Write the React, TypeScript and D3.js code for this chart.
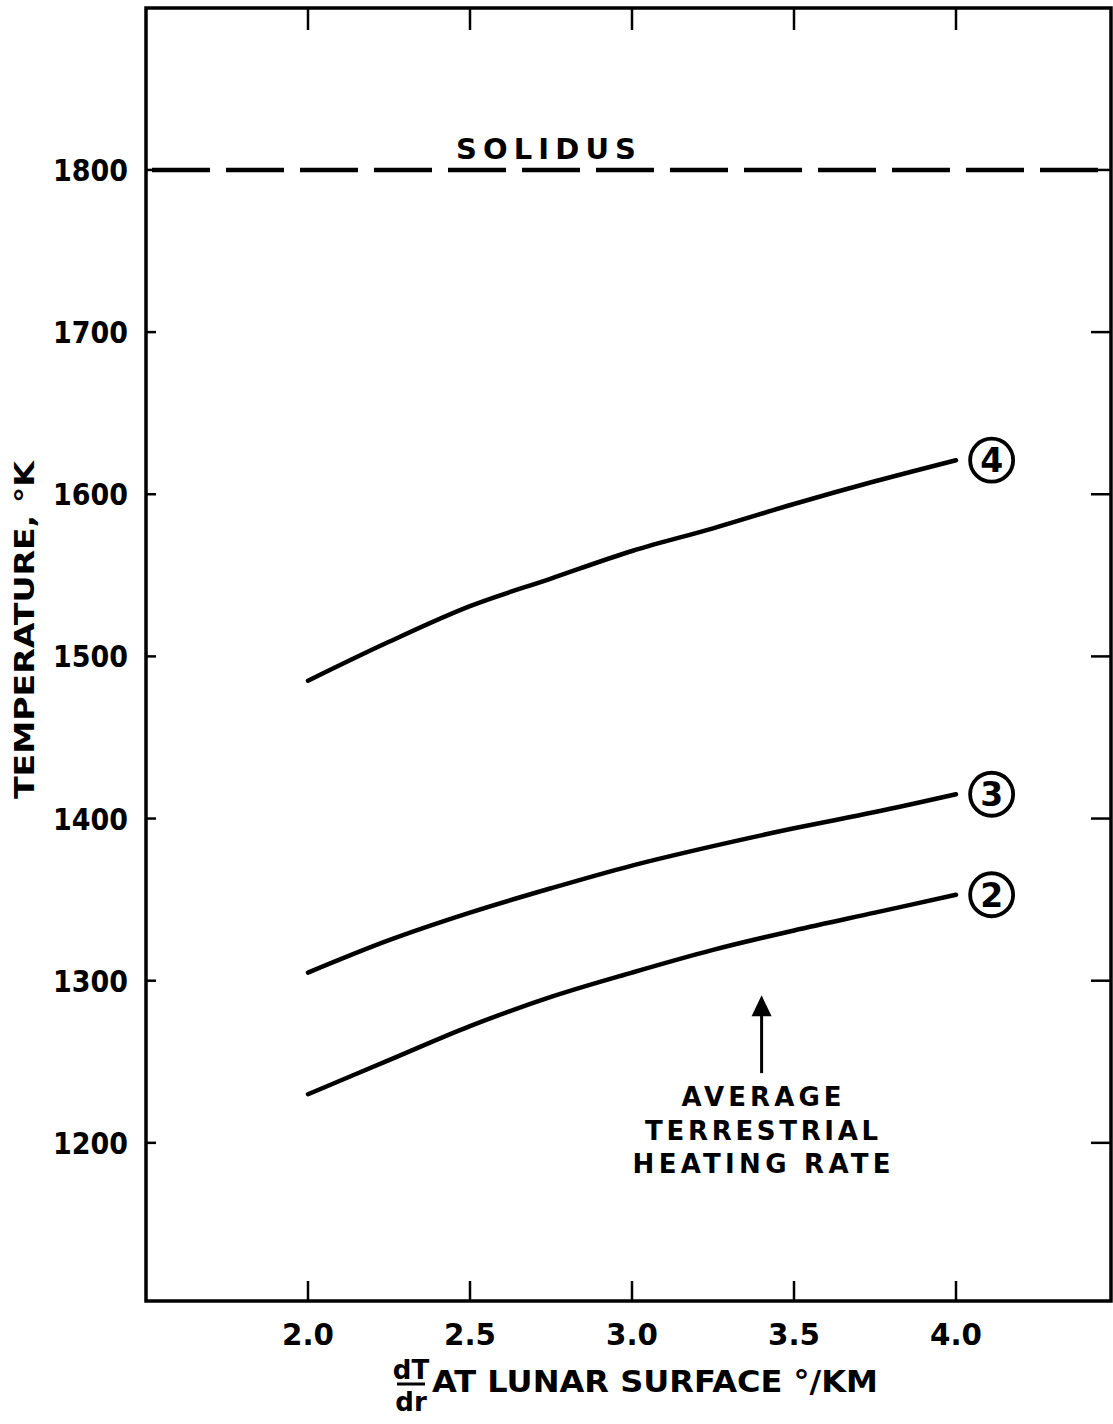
import React from "react";
import * as d3 from "d3";

// ---- data ----
const gradients = [2.0, 2.25, 2.5, 2.75, 3.0, 3.25, 3.5, 3.75, 4.0];
const curve4 = [1485, 1509, 1531, 1548, 1565, 1579, 1594, 1608, 1621];
const curve3 = [1305, 1325, 1342, 1357, 1371, 1383, 1394, 1404, 1415];
const curve2 = [1230, 1251, 1272, 1290, 1305, 1319, 1331, 1342, 1353];
const seriesLabels = ["4", "3", "2"];
const xTicks = [2.0, 2.5, 3.0, 3.5, 4.0];
const xTickLabels = ["2.0", "2.5", "3.0", "3.5", "4.0"];
const yTicks = [1200, 1300, 1400, 1500, 1600, 1700, 1800];
const solidusTemp = 1800;
const arrowGradient = 3.4;
const arrowTip = 1291;
const arrowTail = 1243;
const noteLines = ["AVERAGE", "TERRESTRIAL", "HEATING RATE"];

const W = 1113;
const H = 1424;
const left = 146;
const right = 1111;
const top = 8;
const bottom = 1301;

const FONT = "'DejaVu Sans', sans-serif";

export default function App() {
  const x = d3.scaleLinear().domain([1.5, 4.48]).range([left, left + (4.48 - 1.5) * 324]);
  const y = d3.scaleLinear().domain([1100, 1900]).range([1305, 7.8]);

  const line = d3
    .line<number>()
    .x((_, i) => x(gradients[i]))
    .y((d) => y(d))
    .curve(d3.curveCatmullRom);

  const series = [curve4, curve3, curve2];
  const noteWidths = [160, 233, 258];

  return (
    <svg
      width={W}
      height={H}
      style={{ position: "absolute", left: 0, top: 0, background: "#fff" }}
    >
      <rect x={0} y={0} width={W} height={H} fill="#fff" />
      {/* frame */}
      <rect
        x={left}
        y={top}
        width={right - left}
        height={bottom - top}
        fill="none"
        stroke="#000"
        strokeWidth={3.5}
      />
      {/* left ticks + labels */}
      {yTicks.map((t) => (
        <g key={"yl" + t}>
          <line x1={left} x2={left + 10} y1={y(t)} y2={y(t)} stroke="#000" strokeWidth={2.5} />
          <line x1={right - 20} x2={right} y1={y(t)} y2={y(t)} stroke="#000" strokeWidth={2.5} />
          <text
            x={128}
            y={y(t) + 11}
            textAnchor="end"
            fontFamily={FONT}
            fontWeight="bold"
            fontSize={30}
            textLength={75}
            lengthAdjust="spacingAndGlyphs"
          >
            {t}
          </text>
        </g>
      ))}
      {/* top & bottom ticks */}
      {xTicks.map((t, i) => (
        <g key={"xt" + t}>
          <line x1={x(t)} x2={x(t)} y1={top} y2={top + 22} stroke="#000" strokeWidth={2.5} />
          <line x1={x(t)} x2={x(t)} y1={bottom} y2={bottom - 20} stroke="#000" strokeWidth={2.5} />
          <text
            x={x(t)}
            y={1345}
            textAnchor="middle"
            fontFamily={FONT}
            fontWeight="bold"
            fontSize={30}
            textLength={52}
            lengthAdjust="spacingAndGlyphs"
          >
            {xTickLabels[i]}
          </text>
        </g>
      ))}
      {/* solidus */}
      <line
        x1={left + 6}
        x2={W}
        y1={y(solidusTemp)}
        y2={y(solidusTemp)}
        stroke="#000"
        strokeWidth={4.5}
        strokeDasharray="58 16"
      />
      <text
        x={456}
        y={159}
        fontFamily={FONT}
        fontWeight="bold"
        fontSize={29}
        textLength={180}
        lengthAdjust="spacing"
      >
        SOLIDUS
      </text>
      {/* curves */}
      {series.map((s, k) => (
        <g key={"s" + k}>
          <path d={line(s) || ""} fill="none" stroke="#000" strokeWidth={4.5} strokeLinecap="round" />
          <circle
            cx={x(4.11)}
            cy={y(s[s.length - 1])}
            r={21.5}
            fill="none"
            stroke="#000"
            strokeWidth={3.8}
          />
          <text
            x={x(4.11)}
            y={y(s[s.length - 1]) + 12}
            textAnchor="middle"
            fontFamily={FONT}
            fontWeight="bold"
            fontSize={33}
          >
            {seriesLabels[k]}
          </text>
        </g>
      ))}
      {/* arrow */}
      <line
        x1={x(arrowGradient)}
        x2={x(arrowGradient)}
        y1={y(arrowTail)}
        y2={y(arrowTip) + 15}
        stroke="#000"
        strokeWidth={3}
      />
      <path
        d={`M${x(arrowGradient)},${y(arrowTip)} L${x(arrowGradient) - 10},${y(arrowTip) + 21} L${x(arrowGradient) + 10},${y(arrowTip) + 21} Z`}
        fill="#000"
      />
      {noteLines.map((s, i) => (
        <text
          key={s}
          x={x(arrowGradient)}
          y={1106 + i * 33.5}
          textAnchor="middle"
          fontFamily={FONT}
          fontWeight="bold"
          fontSize={26}
          textLength={noteWidths[i]}
          lengthAdjust="spacing"
        >
          {s}
        </text>
      ))}
      {/* x axis title */}
      <text x={411} y={1379} textAnchor="middle" fontFamily={FONT} fontWeight="bold" fontSize={26}>
        dT
      </text>
      <line x1={397} x2={425} y1={1384} y2={1384} stroke="#000" strokeWidth={3} />
      <text x={411} y={1411} textAnchor="middle" fontFamily={FONT} fontWeight="bold" fontSize={26}>
        dr
      </text>
      <text
        x={432}
        y={1392}
        fontFamily={FONT}
        fontWeight="bold"
        fontSize={31}
        textLength={446}
        lengthAdjust="spacingAndGlyphs"
      >
        AT LUNAR SURFACE °/KM
      </text>
      {/* y axis title */}
      <text
        transform={`translate(34, 630) rotate(-90)`}
        textAnchor="middle"
        fontFamily={FONT}
        fontWeight="bold"
        fontSize={27}
        textLength={338}
        lengthAdjust="spacingAndGlyphs"
      >
        TEMPERATURE, °K
      </text>
    </svg>
  );
}
